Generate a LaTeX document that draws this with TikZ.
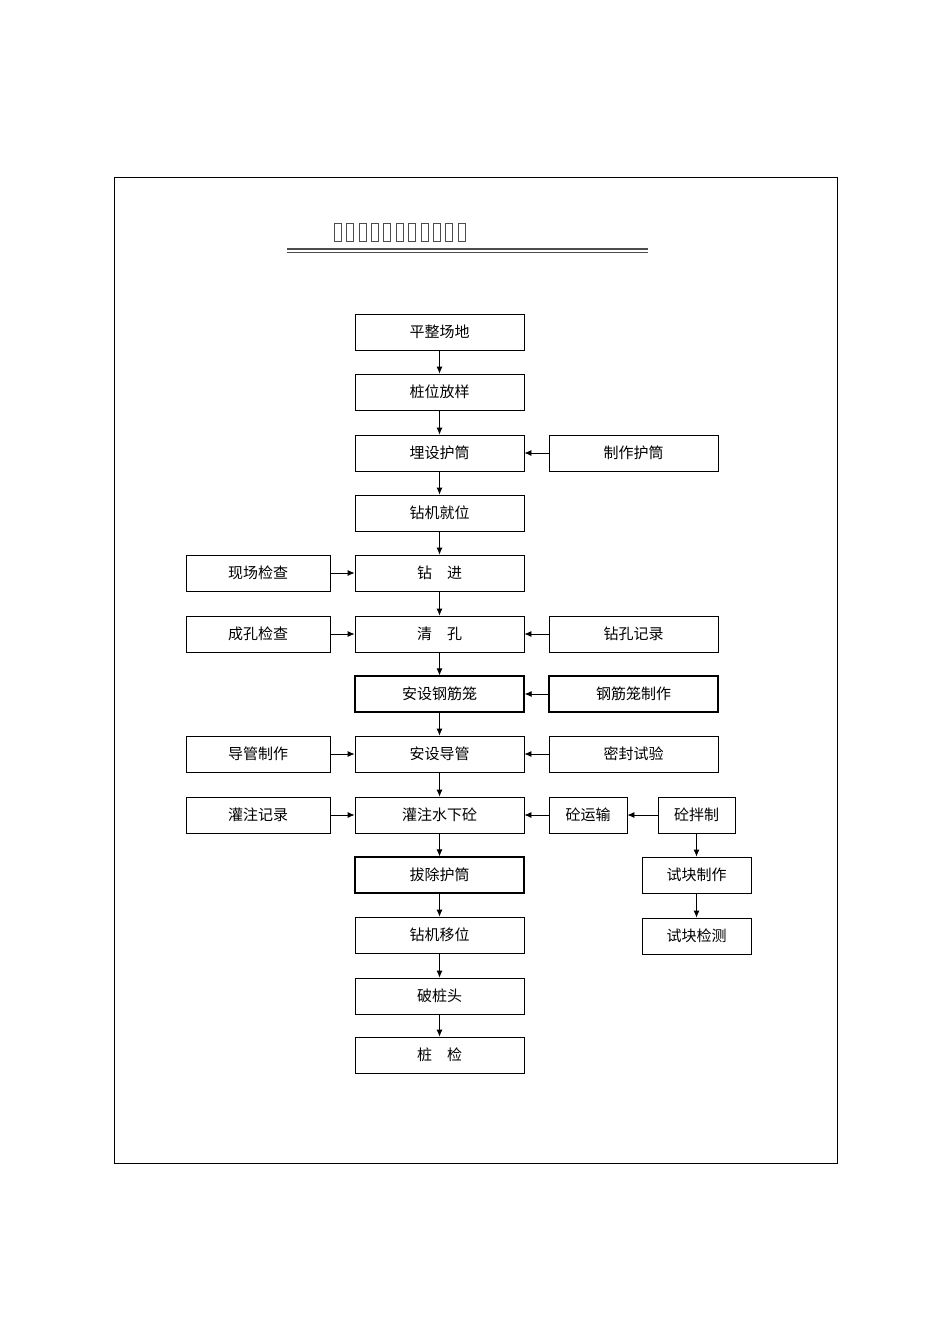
\documentclass[tikz,border=0pt]{standalone}
\usepackage{fontspec}
\newfontfamily\cjk{Noto Sans CJK SC}
\usetikzlibrary{arrows.meta}
\begin{document}
\begin{tikzpicture}[x=1pt,y=-1pt,
 bx/.style={draw,line width=0.8pt,minimum height=36pt,inner sep=0pt,font=\cjk\fontsize{15}{15}\selectfont},
 mb/.style={bx,minimum width=169pt},
 sb/.style={bx,minimum width=144pt},
 rb/.style={bx,minimum width=169pt},
 ar/.style={-{Latex[length=7pt,width=6pt]},line width=0.8pt}]
\useasboundingbox (0,0) rectangle (950,1344);
\draw[line width=0.6pt] (114,177) rectangle (837,1163);
\foreach \i in {0,...,10} \draw[line width=0.5pt,gray!60!black] (334+\i*12.4,223) rectangle ++(7,18);
\draw[line width=1.4pt,black!70] (287,249) -- (648,249);
\draw[line width=1.4pt,black!70] (287,252.5) -- (648,252.5);
\def\X{439.5}
\node[mb] (a1) at (\X,332) {平整场地};
\node[mb] (a2) at (\X,392) {桩位放样};
\node[mb] (a3) at (\X,453) {埋设护筒};
\node[mb] (a4) at (\X,513) {钻机就位};
\node[mb] (a5) at (\X,573) {钻\quad 进};
\node[mb] (a6) at (\X,634) {清\quad 孔};
\node[mb,line width=1.3pt] (a7) at (\X,694) {安设钢筋笼};
\node[mb] (a8) at (\X,754) {安设导管};
\node[mb] (a9) at (\X,815) {灌注水下砼};
\node[mb,line width=1.3pt] (a10) at (\X,875) {拔除护筒};
\node[mb] (a11) at (\X,935) {钻机移位};
\node[mb] (a12) at (\X,996) {破桩头};
\node[mb] (a13) at (\X,1055) {桩\quad 检};
\foreach \i [evaluate=\i as \j using int(\i+1)] in {1,...,12} \draw[ar] (a\i) -- (a\j);
\node[sb] (l5) at (258,573) {现场检查};
\node[sb] (l6) at (258,634) {成孔检查};
\node[sb] (l8) at (258,754) {导管制作};
\node[sb] (l9) at (258,815) {灌注记录};
\foreach \i in {5,6,8,9} \draw[ar] (l\i) -- (a\i);
\node[rb] (r3) at (633.5,453) {制作护筒};
\node[rb] (r6) at (633.5,634) {钻孔记录};
\node[rb,line width=1.3pt] (r7) at (633.5,694) {钢筋笼制作};
\node[rb] (r8) at (633.5,754) {密封试验};
\foreach \i in {3,6,7,8} \draw[ar] (r\i) -- (a\i);
\node[bx,minimum width=78pt] (r9) at (588,815) {砼运输};
\draw[ar] (r9) -- (a9);
\node[bx,minimum width=77pt] (m1) at (696.5,815) {砼拌制};
\draw[ar] (m1) -- (r9);
\node[bx,minimum width=109pt] (m2) at (696.5,875) {试块制作};
\node[bx,minimum width=109pt] (m3) at (696.5,936) {试块检测};
\draw[ar] (m1) -- (m2);
\draw[ar] (m2) -- (m3);
\end{tikzpicture}
\end{document}
